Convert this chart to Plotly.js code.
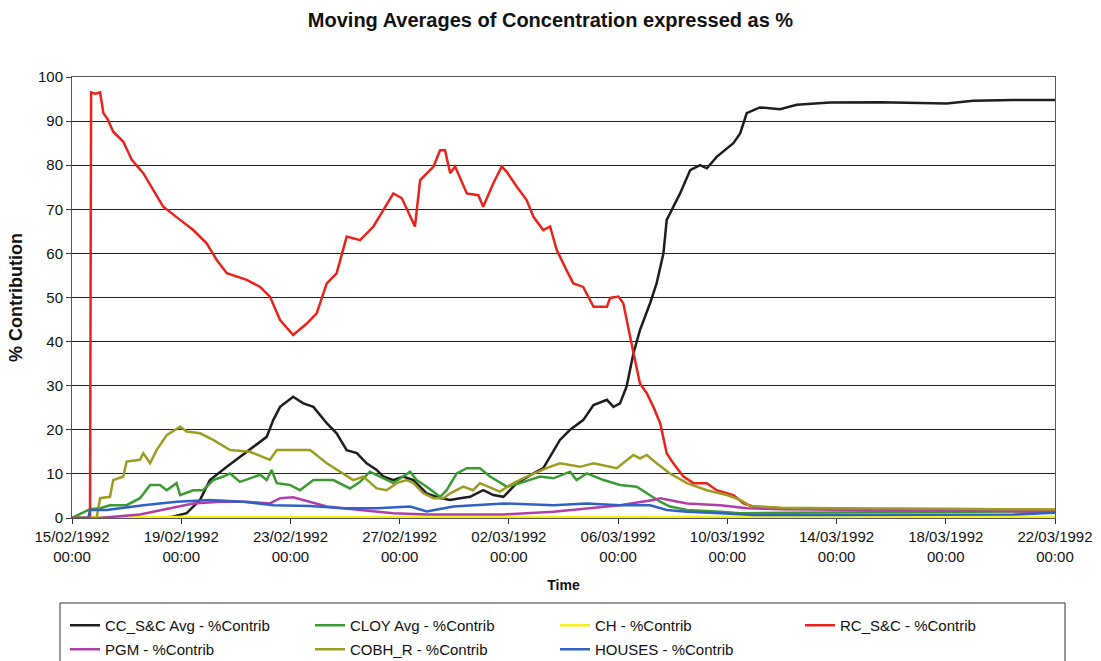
<!DOCTYPE html>
<html><head><meta charset="utf-8">
<script src="https://cdn.plot.ly/plotly-3.0.1.min.js"></script>
<style>body{margin:0;background:#fff}#chart{width:1101px;height:661px}</style>
</head><body><div id="chart"></div>
<script>
// Day offsets are days since 15/02/1992 00:00
const ccDays = [0,3.0,3.6,4.2,4.69,5.05,5.67,6.15,6.64,7.13,7.37,7.62,8.10,8.47,8.84,9.33,9.69,10.06,10.43,10.79,11.16,11.40,11.77,12.13,12.50,12.99,13.48,13.85,14.21,14.58,15.06,15.43,15.80,16.29,16.90,17.26,17.51,17.87,18.24,18.72,19.10,19.59,19.83,20.07,20.31,20.56,20.80,21.17,21.41,21.66,21.78,22.02,22.27,22.64,23.00,23.25,23.61,24.22,24.47,24.71,25.07,25.19,25.93,26.54,27.76,29.59,32.03,33.01,34.47,35.88,36];
const ccVals = [0,0,0.2,1.1,4.1,8.6,11.6,13.9,16.2,18.4,22.2,25.2,27.5,26.0,25.2,21.5,19.2,15.4,14.7,12.4,10.9,9.4,8.6,9.4,8.6,5.6,4.5,4.1,4.5,4.8,6.3,5.2,4.8,7.9,10.1,11.3,13.9,17.7,20.0,22.2,25.6,26.8,25.2,26.0,29.8,37.3,42.6,48.7,53.2,60.0,67.6,70.6,73.6,78.9,80.0,79.3,81.9,85.0,87.2,91.8,92.9,93.1,92.7,93.7,94.2,94.3,94.0,94.6,94.8,94.8,94.8];

const cloyDays = [0,0.66,1.03,1.39,2.00,2.49,2.86,3.22,3.47,3.83,3.96,4.44,4.8,5.17,5.54,5.79,6.15,6.89,7.13,7.31,7.50,7.98,8.35,8.84,9.57,10.18,10.55,10.91,11.28,11.77,12.38,12.62,12.99,13.48,13.72,14.09,14.46,14.94,15.31,15.92,16.41,17.14,17.63,18.24,18.48,18.85,19.47,20.07,20.68,21.05,21.54,21.90,22.52,23.74,24.47,26,30,34,36];
const cloyVals = [0,2.0,2.2,2.9,2.9,4.5,7.5,7.5,6.3,7.9,5.2,6.3,6.3,8.6,9.4,10.1,8.2,9.8,8.6,10.9,7.9,7.5,6.3,8.6,8.6,6.7,8.2,10.5,9.4,7.9,10.5,8.6,7.1,4.8,6.3,10.1,11.3,11.3,9.4,7.1,7.9,9.4,9.0,10.5,8.6,10.1,8.6,7.5,7.1,5.6,3.7,2.6,1.8,1.4,1.1,1.2,1.3,1.4,1.5];

const chDays = [0,1.0,10,20,30,36];
const chVals = [0,0.2,0.2,0.2,0.3,0.3];

const rcDays = [0,0.66,0.70,0.85,1.03,1.15,1.3,1.51,1.88,2.19,2.61,2.98,3.34,3.96,4.44,4.93,5.30,5.67,6.40,6.89,7.25,7.62,8.10,8.60,8.96,9.33,9.69,10.06,10.55,11.04,11.40,11.77,12.08,12.38,12.56,12.75,13.24,13.48,13.66,13.85,14.03,14.46,14.88,15.06,15.43,15.74,15.92,16.29,16.65,16.90,17.26,17.51,17.75,18.11,18.36,18.72,19.10,19.59,19.71,20.01,20.19,20.44,20.62,20.80,21.05,21.29,21.54,21.66,21.78,22.02,22.39,22.76,23.25,23.61,24.22,24.59,24.95,26,28,30,32,34,36];
const rcVals = [0,0,96.5,96.2,96.5,91.8,90.5,87.6,85.3,81.2,78.2,74.4,70.6,67.6,65.3,62.3,58.5,55.5,54.0,52.4,50.2,44.9,41.5,44.1,46.4,53.2,55.5,63.8,63.0,66.1,69.8,73.6,72.5,68.3,66.1,76.6,79.7,83.4,83.4,78.2,79.7,73.6,73.2,70.6,75.9,79.7,78.5,75.1,72.1,68.3,65.3,66.1,60.8,56.2,53.2,52.4,47.9,47.9,49.9,50.2,48.7,41.1,35.8,30.5,28.3,25.2,21.5,18.4,14.7,12.4,9.4,7.9,7.9,6.3,5.2,3.3,2.6,2.2,2.0,2.0,2.0,1.9,1.8];

const pgmDays = [0,1.0,2.49,3.22,3.83,4.44,5.42,6.4,7.25,7.62,8.10,8.72,9.33,10.55,11.77,12.99,13.97,15.80,17.63,18.85,20.07,21.29,21.54,22.52,23.74,24.71,26,30,34,36];
const pgmVals = [0,0,0.8,1.8,2.6,3.3,3.7,3.7,3.3,4.5,4.7,3.7,2.6,1.8,1.1,0.8,0.8,0.8,1.4,2.2,2.9,4.1,4.5,3.3,2.9,2.2,2.0,1.8,1.6,1.3];

const cobhDays = [0,0.90,1.03,1.39,1.51,1.88,2.00,2.49,2.61,2.86,3.10,3.47,3.96,4.20,4.69,5.17,5.79,6.52,7.25,7.50,8.10,8.72,9.33,9.94,10.30,10.67,11.16,11.52,11.89,12.26,12.50,12.87,13.24,13.60,13.85,14.33,14.69,14.94,15.67,16.17,16.65,17.38,17.87,18.61,19.10,19.95,20.56,20.80,21.05,21.41,21.90,22.52,23.25,23.98,24.47,24.84,26,28,30,32,34,36];
const cobhVals = [0,0,4.5,4.8,8.6,9.4,12.8,13.2,14.7,12.4,15.4,18.8,20.7,19.6,19.2,17.7,15.4,15.0,13.2,15.4,15.4,15.4,12.4,10.1,8.6,9.4,6.7,6.3,7.9,8.6,7.9,5.6,4.5,4.5,5.6,7.1,6.3,7.9,6.0,7.9,9.4,11.3,12.4,11.6,12.4,11.3,14.3,13.5,14.3,12.4,10.1,7.9,6.3,5.2,4.1,2.7,2.3,2.2,2.2,2.1,2.0,1.9];

const housesDays = [0,0.6,0.66,1.27,2.61,3.83,5.05,6.27,7.37,8.72,9.94,11.16,12.38,12.99,13.97,14.94,15.80,17.63,18.85,20.07,21.17,21.78,22.52,23.74,24.95,28,32,34.5,36];
const housesVals = [0,0,1.8,1.8,2.9,3.7,4.1,3.7,2.9,2.7,2.2,2.2,2.6,1.5,2.6,2.9,3.3,2.9,3.3,2.9,2.9,1.8,1.4,1.1,0.7,0.7,0.7,0.8,1.2];

const tickDates = ['1992-02-15','1992-02-19','1992-02-23','1992-02-27','1992-03-02','1992-03-06','1992-03-10','1992-03-14','1992-03-18','1992-03-22'];
const tickLabels = ['15/02/1992<br>00:00','19/02/1992<br>00:00','23/02/1992<br>00:00','27/02/1992<br>00:00','02/03/1992<br>00:00','06/03/1992<br>00:00','10/03/1992<br>00:00','14/03/1992<br>00:00','18/03/1992<br>00:00','22/03/1992<br>00:00'];

const base = Date.UTC(1992,1,15);
function toDates(days){
  return days.map(d=>{
    const t = new Date(base + d*86400000);
    return t.toISOString().replace('T',' ').slice(0,19);
  });
}

const series = [
  {name:'CC_S&C Avg - %Contrib', d:ccDays, v:ccVals, c:'#1e1e1e', lg:'legend'},
  {name:'CLOY Avg - %Contrib', d:cloyDays, v:cloyVals, c:'#3c9a32', lg:'legend'},
  {name:'CH - %Contrib', d:chDays, v:chVals, c:'#f2f21a', lg:'legend'},
  {name:'RC_S&C - %Contrib', d:rcDays, v:rcVals, c:'#e8231c', lg:'legend'},
  {name:'PGM - %Contrib', d:pgmDays, v:pgmVals, c:'#b03ea8', lg:'legend2'},
  {name:'COBH_R - %Contrib', d:cobhDays, v:cobhVals, c:'#9c9c22', lg:'legend2'},
  {name:'HOUSES - %Contrib', d:housesDays, v:housesVals, c:'#2f62c4', lg:'legend2'}
];

const traces = series.map(s=>({
  type:'scatter', mode:'lines', name:s.name, legend:s.lg,
  x:toDates(s.d), y:s.v,
  line:{color:s.c, width:2.5}
}));

const font = {family:'Liberation Sans, Arial, sans-serif', color:'#111'};
const PW = 983, PH = 441;
const px = v => (v-72)/PW;
const py = v => (518-v)/PH;

const legendCommon = {
  orientation:'h', xanchor:'left', yanchor:'top',
  borderwidth:0, bgcolor:'rgba(0,0,0,0)',
  font:Object.assign({size:15}, font),
  entrywidth:200, entrywidthmode:'pixels', traceorder:'normal'
};

const layout = {
  width:1101, height:661,
  margin:{l:72, r:46, t:77, b:143, autoexpand:false},
  paper_bgcolor:'#fff', plot_bgcolor:'#fff',
  font:Object.assign({size:15}, font),
  title:{text:'<b>Moving Averages of Concentration expressed as %</b>', x:0.5, xanchor:'center', y:0.97, yanchor:'middle', font:Object.assign({size:20}, font)},
  xaxis:{
    type:'date', range:['1992-02-15','1992-03-22'],
    tickmode:'array', tickvals:tickDates, ticktext:tickLabels,
    ticks:'outside', ticklen:5, tickcolor:'#333',
    showgrid:false, showline:true, linecolor:'#555', linewidth:1, mirror:true,
    zeroline:false, tickfont:Object.assign({size:15}, font),
    title:{text:'<b>Time</b>', font:Object.assign({size:14}, font), standoff:16}
  },
  yaxis:{
    range:[0,100], dtick:10, tick0:0,
    ticks:'outside', ticklen:5, tickcolor:'#333',
    showgrid:true, gridcolor:'#222', gridwidth:1,
    showline:true, linecolor:'#555', linewidth:1, mirror:true,
    zeroline:false, tickfont:Object.assign({size:15}, font),
    title:{text:'<b>% Contribution</b>', font:Object.assign({size:18}, font), standoff:10}
  },
  showlegend:true,
  legend:Object.assign({x:px(65), y:py(609)}, legendCommon),
  legend2:Object.assign({x:px(65), y:py(633)}, legendCommon),
  shapes:[{type:'rect', xref:'paper', yref:'paper', x0:px(60), x1:px(1065), y0:py(603), y1:py(700), line:{color:'#333', width:1}, fillcolor:'rgba(0,0,0,0)'}]
};

Plotly.newPlot('chart', traces, layout, {displayModeBar:false, staticPlot:true});
</script>
</body></html>
